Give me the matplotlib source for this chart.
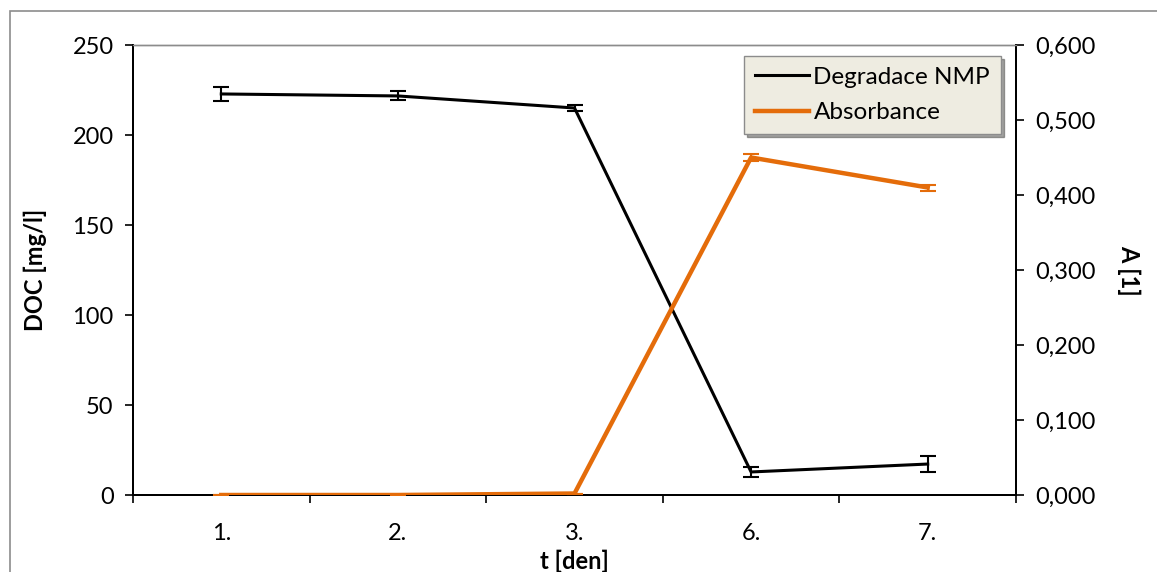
"""DOC degradation of NMP and absorbance over time."""
import matplotlib.pyplot as plt
from matplotlib.patches import Rectangle
from matplotlib.ticker import FuncFormatter

DAYS = ["1.", "2.", "3.", "6.", "7."]
DOC = [222.8, 221.7, 215.0, 12.8, 17.2]
DOC_ERR = [4.0, 2.5, 1.5, 3.0, 4.5]
ABSORB = [0.000, 0.000, 0.002, 0.450, 0.410]
ABSORB_ERR = [0.0, 0.0, 0.0, 0.005, 0.004]

ORANGE = "#E46C0A"
FS = 17

plt.rcParams["font.family"] = ["Lato", "DejaVu Sans"]

fig = plt.figure(figsize=(11.57, 5.72), dpi=100)
# outer chart frame
fig.patches.append(
    Rectangle((10 / 1157, -0.05), 1.2, 1 - 11 / 572 + 0.05,
              transform=fig.transFigure, fill=False,
              edgecolor="#8c8c8c", linewidth=1.2)
)

ax = fig.add_axes([133 / 1157, 1 - 495 / 572, 883 / 1157, 450 / 572])
ax2 = ax.twinx()

x = list(range(len(DAYS)))

ax.errorbar(x, DOC, yerr=DOC_ERR, color="black", linewidth=2.2,
            elinewidth=1.5, capsize=6, capthick=1.5,
            label="Degradace NMP", zorder=3)
ax2.errorbar(x, ABSORB, yerr=ABSORB_ERR, color=ORANGE, linewidth=3.2,
             elinewidth=1.5, capsize=6, capthick=1.5,
             label="Absorbance", zorder=3)

ax.set_xlim(-0.5, len(DAYS) - 0.5)
ax.set_ylim(0, 250)
ax2.set_ylim(0, 0.6)
ax.set_yticks(range(0, 251, 50))
ax2.set_yticks([i / 10 for i in range(7)])
ax2.yaxis.set_major_formatter(FuncFormatter(lambda v, _: f"{v:.3f}".replace(".", ",")))

ax.set_xticks(x)
ax.set_xticklabels(DAYS)
ax.set_xticks([i - 0.5 for i in range(len(DAYS) + 1)], minor=True)
ax.tick_params(axis="x", which="major", length=0, pad=20, labelsize=FS)
ax.tick_params(axis="x", which="minor", length=6, width=1.2, direction="out")
ax.tick_params(axis="y", length=6, width=1.2, direction="out", labelsize=FS, pad=8)
ax2.tick_params(axis="y", length=6, width=1.2, direction="out", labelsize=FS, pad=8)

for a in (ax, ax2):
    a.spines["top"].set_color("#8c8c8c")
    a.spines["top"].set_linewidth(1.0)
    for spine in ("left", "right", "bottom"):
        a.spines[spine].set_linewidth(1.4)

ax.set_ylabel("DOC [mg/l]", fontsize=FS, fontweight="bold", labelpad=18)
ax.set_xlabel("t [den]", fontsize=FS, fontweight="bold", labelpad=4)
ax2.set_ylabel("A [1]", fontsize=FS, fontweight="bold", rotation=-90, labelpad=32)

h1, l1 = ax.get_legend_handles_labels()
h2, l2 = ax2.get_legend_handles_labels()
leg = ax2.legend(
    [h[0] for h in h1 + h2], l1 + l2,
    loc="upper right", bbox_to_anchor=(0.983, 0.976),
    fontsize=17.5, frameon=True, fancybox=False, shadow=True,
    handlelength=2.2, handletextpad=0.2, borderpad=0.45, labelspacing=0.6,
    borderaxespad=0,
)
leg.get_frame().set_facecolor("#EEECE1")
leg.get_frame().set_edgecolor("#8c8c8c")
leg.get_frame().set_alpha(1.0)
leg.set_zorder(10)

fig.savefig("out.png", dpi=100)
